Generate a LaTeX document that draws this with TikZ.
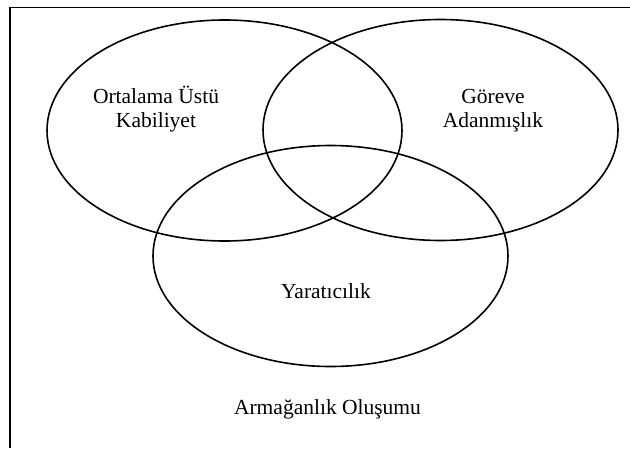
\documentclass[tikz,border=0pt]{standalone}
\usepackage{fontspec}
\setmainfont{Liberation Serif}
\usetikzlibrary{shapes.geometric}
\tikzset{
  venn/.style={draw, ellipse, line width=1.6pt, minimum width=355pt, minimum height=221pt, inner sep=0pt},
  lbl/.style={align=center, font=\fontsize{21.5}{24}\selectfont, inner sep=0pt},
  frame/.style={line width=1.6pt}
}
\begin{document}
\begin{tikzpicture}[x=1pt,y=-1pt]
\useasboundingbox (0,0) rectangle (630,448);
\fill[white] (0,0) rectangle (630,448);
\coordinate (fb) at (10,448);
\coordinate (fc) at (10,7.5);
\coordinate (fr) at (630,7.5);
\draw[frame] (fb) -- (fc) -- (fr);
\node[venn] (A) at (224.5,130.5) {};
\node[venn] (B) at (440.5,130) {};
\node[venn] (C) at (330.5,256) {};
\node[lbl] (ta) at (156,109) {Ortalama Üstü\\Kabiliyet};
\node[lbl] (tb) at (493,111) {Göreve\\Adanmışlık};
\node[lbl] (tc) at (326,291) {Yaratıcılık};
\node[lbl] (td) at (327.5,409) {Armağanlık Oluşumu};
\end{tikzpicture}
\end{document}
